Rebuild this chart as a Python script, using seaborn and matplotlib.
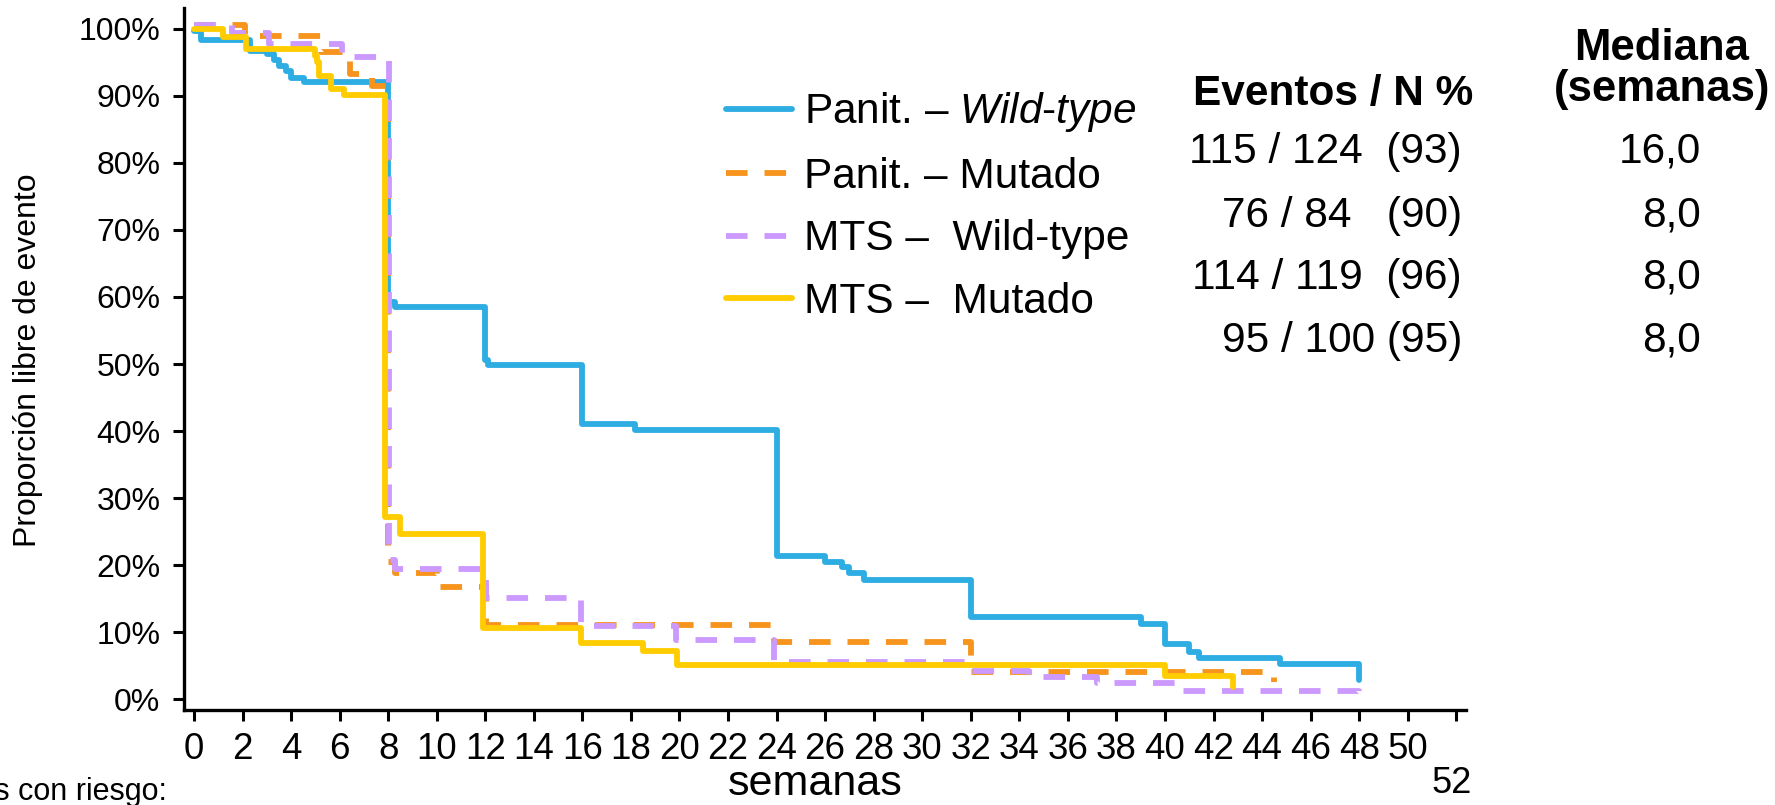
import numpy as np
import pandas as pd
import matplotlib
matplotlib.use("Agg")
import matplotlib.pyplot as plt
import seaborn as sns

sns.set_style("ticks")
plt.rcParams['font.family'] = ['Liberation Sans', 'DejaVu Sans']
plt.rcParams['mathtext.fontset'] = 'custom'
plt.rcParams['mathtext.rm'] = 'Liberation Sans'
plt.rcParams['mathtext.it'] = 'Liberation Sans:italic'
for k in ['text.color', 'axes.labelcolor', 'xtick.color', 'ytick.color', 'axes.edgecolor']:
    plt.rcParams[k] = 'black'
NARROW = ['Liberation Sans Narrow', 'Liberation Sans', 'DejaVu Sans']

# ---------------- data ----------------
labels = [r"Panit. – $\mathit{Wild}$-$\mathit{type}$", "Panit. – Mutado",
          "MTS –  Wild-type", "MTS –  Mutado"]
colors = ["#2EADE3", "#F7941D", "#CC99FF", "#FFCC00"]

panit_wt_weeks = [0, 0.3, 2.3, 3.0, 3.3, 3.5, 3.8, 4.0, 4.55, 8.0, 8.27, 12.0, 12.1,
                  16.0, 18.15, 24.0, 26.0, 26.7, 27.0, 27.6, 32.0, 39.0, 40.0, 41.0,
                  41.4, 44.75, 48.0]
panit_wt_surv = [99.6, 98.4, 96.7, 96.2, 95.4, 94.4, 93.7, 92.7, 92.0, 59.3, 58.5, 50.6,
                 49.8, 41.0, 40.1, 21.4, 20.5, 19.8, 18.9, 17.8, 12.2, 11.3, 8.2, 7.0,
                 6.2, 5.3, 2.8]

panit_mut_weeks = [0, 2.1, 5.24, 6.41, 7.35, 8.0, 8.27, 10.0, 12.04, 23.9, 32.0, 44.5]
panit_mut_surv = [100.5, 98.9, 96.5, 93.2, 91.5, 20.5, 18.8, 16.8, 11.05, 8.6, 4.0, 2.6]

mts_wt_weeks = [0, 1.55, 3.1, 6.1, 8.02, 8.27, 12.04, 15.95, 19.87, 23.9, 32.0, 34.4,
                37.2, 40.6, 48.0]
mts_wt_surv = [100.5, 99.3, 97.8, 95.8, 20.8, 19.4, 15.1, 10.9, 8.8, 5.6, 4.2, 3.3,
               2.4, 1.2, 0.1]

mts_mut_weeks = [0, 1.19, 2.15, 4.97, 5.07, 5.17, 5.65, 6.2, 7.85, 8.47, 11.9, 15.95,
                 18.5, 19.9, 40.0, 42.8]
mts_mut_surv = [99.9, 98.8, 97.0, 96.0, 95.0, 92.9, 91.0, 90.1, 27.2, 24.7, 10.65, 8.4,
                7.2, 5.1, 3.5, 1.9]

x_ticks = list(range(0, 53, 2))
x_tick_labels = [str(v) for v in range(0, 51, 2)] + [""]
y_ticks = list(range(0, 101, 10))
y_tick_labels = [f"{v}%" for v in y_ticks]

table_header = "Eventos / N %"
table_rows = ["115 / 124  (93)", "76 / 84   (90)", "114 / 119  (96)", "95 / 100 (95)"]
median_header = ["Mediana", "(semanas)"]
medians = ["16,0", "8,0", "8,0", "8,0"]

# ---------------- figure ----------------
W, H = 1775, 805
fig = plt.figure(figsize=(W / 100, H / 100), dpi=100)

def fx(px):
    return px / W

def fy(py):
    return 1 - py / H

ax = fig.add_axes([fx(184), fy(710), fx(1466) - fx(184), fy(8) - fy(710)])

DASH = (0, (3.7, 2.9))
series = [(panit_wt_weeks, panit_wt_surv, "-"),
          (panit_mut_weeks, panit_mut_surv, DASH),
          (mts_wt_weeks, mts_wt_surv, DASH),
          (mts_mut_weeks, mts_mut_surv, "-")]

for (t, s, ls), lab, col in zip(series, labels, colors):
    df = pd.DataFrame({"t": t, "s": s})
    sns.lineplot(data=df, x="t", y="s", ax=ax, color=col, lw=4.2,
                 drawstyle="steps-post", estimator=None, sort=False,
                 linestyle=ls, label=lab)

ax.set_xlim(-0.41, 52.4)
ax.set_ylim(-1.6, 103.1)
ax.set_xticks(x_ticks)
ax.set_xticklabels(x_tick_labels, fontsize=26.5)
ax.set_yticks(y_ticks)
ax.set_yticklabels(y_tick_labels, fontsize=23)
ax.set_xlabel("")
ax.set_ylabel("")
for side in ["top", "right"]:
    ax.spines[side].set_visible(False)
for side in ["left", "bottom"]:
    ax.spines[side].set_linewidth(2.4)
    ax.spines[side].set_color("black")
ax.tick_params(axis="both", direction="out", length=8, width=2.2, color="black")
ax.tick_params(axis="x", pad=8)
ax.tick_params(axis="y", pad=9)

handles, labs = ax.get_legend_handles_labels()
ax.legend(handles, labs, loc="upper left", bbox_to_anchor=(fx(726), fy(90.5)),
          bbox_transform=fig.transFigure, frameon=False, fontsize=30.5,
          handlelength=1.56, handletextpad=0.28, labelspacing=0.53,
          borderpad=0, borderaxespad=0)

# axis titles
fig.text(fx(28), fy(360), "Proporción libre de evento", rotation=90,
         ha="center", va="center", fontsize=23)
fig.text(fx(815), fy(784), "semanas", ha="center", va="center", fontsize=31)
fig.text(fx(1452), fy(783), "52", ha="center", va="center", fontsize=26)
fig.text(fx(167), fy(800), "Pacientes con riesgo:", ha="right", va="baseline",
         fontsize=22, family=NARROW)

# table
fig.text(fx(1333), fy(94), table_header, ha="center", va="center",
         fontsize=30.5, fontweight="bold", family=NARROW)
fig.text(fx(1662), fy(49), median_header[0], ha="center", va="center",
         fontsize=31.5, fontweight="bold", family=NARROW)
fig.text(fx(1662), fy(90), median_header[1], ha="center", va="center",
         fontsize=31.5, fontweight="bold", family=NARROW)
row_y = [151.5, 215.5, 277.5, 340.5]
for yy, r, m in zip(row_y, table_rows, medians):
    fig.text(fx(1462), fy(yy), r, ha="right", va="center", fontsize=30.5, family=NARROW)
    fig.text(fx(1701), fy(yy), m, ha="right", va="center", fontsize=30.5, family=NARROW)

fig.savefig("out.png", dpi=100)
